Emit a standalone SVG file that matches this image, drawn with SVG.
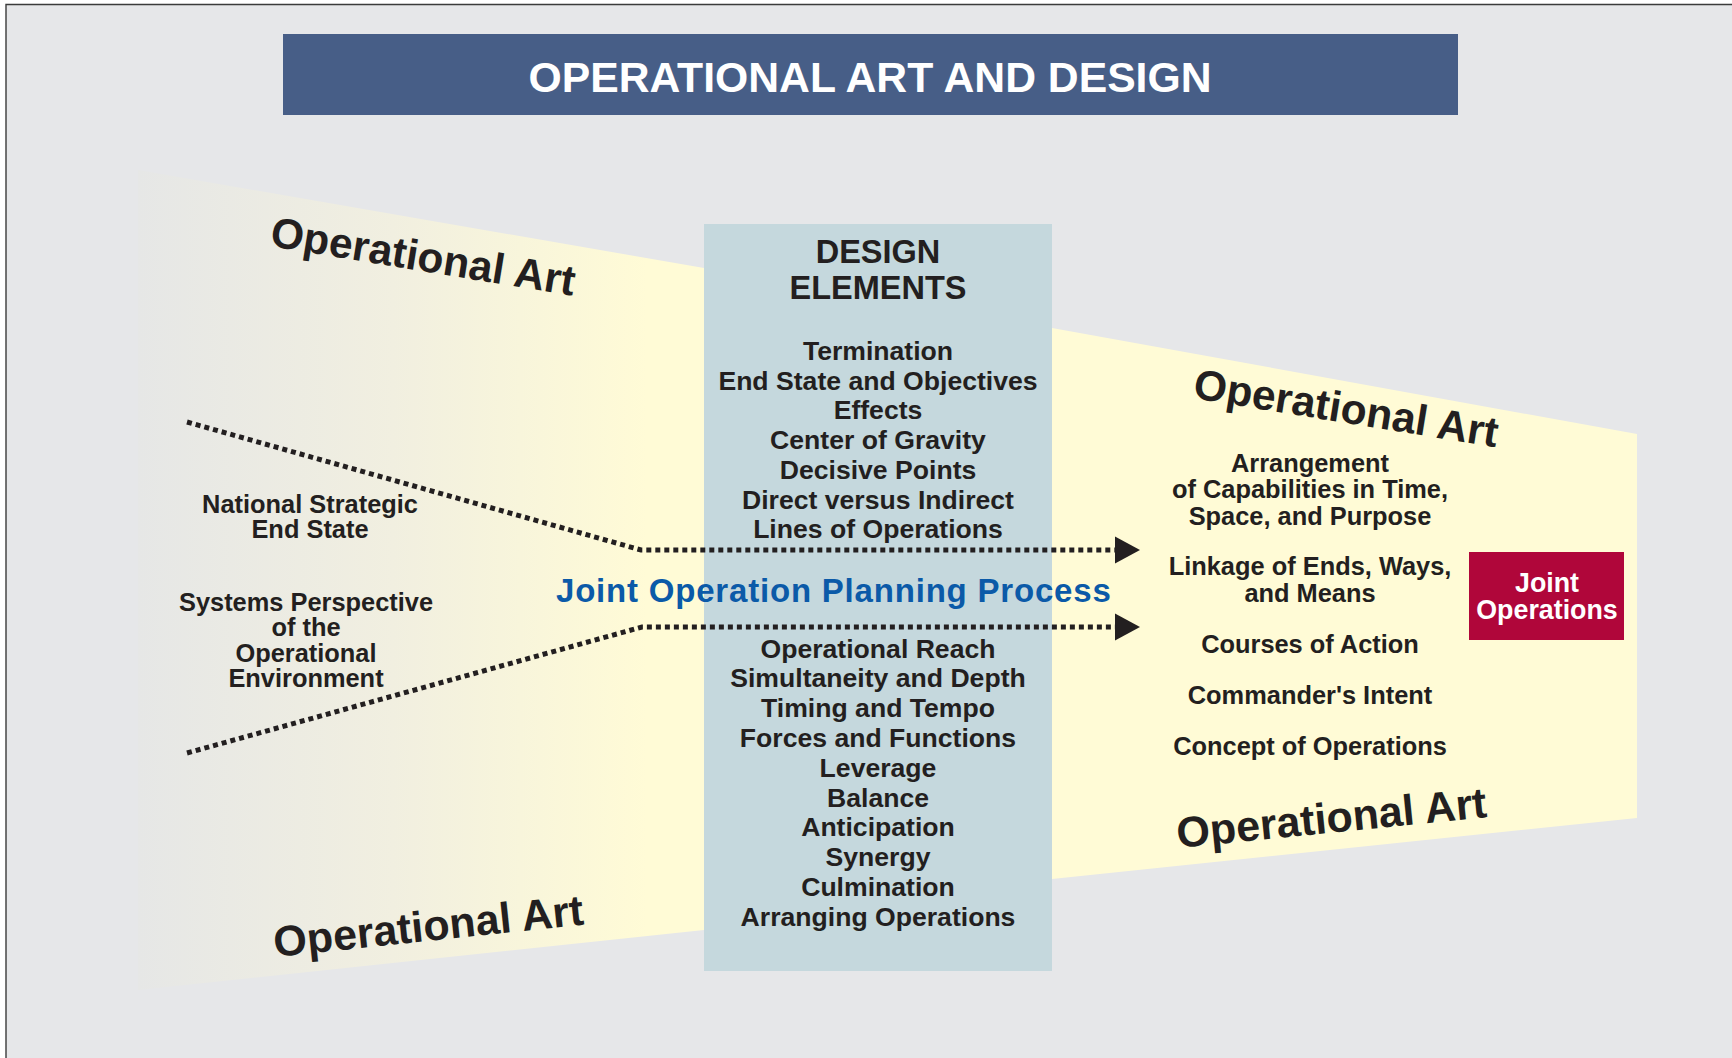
<svg xmlns="http://www.w3.org/2000/svg" width="1732" height="1058" viewBox="0 0 1732 1058">
<style>
.t{font-family:"Liberation Sans",Arial,Helvetica,sans-serif;font-weight:bold;fill:#231f20;}
.item{font-size:26.6px;text-anchor:middle;}
.lab{font-size:25.4px;text-anchor:middle;}
.oa{font-size:42.5px;}
.dot{fill:none;stroke:#231f20;stroke-width:5;stroke-dasharray:5 4;}
</style>
<defs>
<linearGradient id="lg" gradientUnits="userSpaceOnUse" x1="138" y1="0" x2="704" y2="0">
<stop offset="0" stop-color="#e6e7e6"/>
<stop offset="0.45" stop-color="#f1efe0"/>
<stop offset="0.9" stop-color="#fffbd6"/>
<stop offset="1" stop-color="#fffbd6"/>
</linearGradient>
<marker id="ah" markerUnits="userSpaceOnUse" markerWidth="26" markerHeight="28" viewBox="0 0 26 28" refX="0" refY="14" orient="auto">
<path d="M0,0.5 L25,14 L0,27.5 Z" fill="#231f20"/>
</marker>
</defs>
<rect x="0" y="0" width="1732" height="1058" fill="#ffffff"/>
<rect x="6" y="4.5" width="1726" height="1054" fill="#e6e7e9"/>
<path d="M6,1058 V4.5 H1732" fill="none" stroke="#3b3b3b" stroke-width="1.4"/>

<g id="title">
<rect x="283" y="34" width="1175" height="81" fill="#475e87"/>
<text x="870" y="92" class="t" font-size="42.7" text-anchor="middle" style="fill:#ffffff">OPERATIONAL ART AND DESIGN</text>
</g>

<g id="left-panel">
<polygon points="138,170 704,268 704,930 138,990" fill="url(#lg)"/>
<text class="t oa" x="269" y="246" transform="rotate(9.3 269 246)">Operational Art</text>
<text class="t" font-size="43" x="275" y="957" transform="rotate(-6 275 957)">Operational Art</text>
</g>

<g id="right-panel">
<polygon points="1052,328 1637,434 1637,818 1052,879" fill="#fffbd6"/>
<text class="t oa" x="1192" y="398" transform="rotate(9.2 1192 398)">Operational Art</text>
<text class="t" font-size="43" x="1178" y="848" transform="rotate(-5.7 1178 848)">Operational Art</text>
</g>

<g id="design-elements">
<rect x="704" y="224" width="348" height="747" fill="#c5d8dd"/>
<text class="t" font-size="32.5" text-anchor="middle" x="878" y="263">DESIGN</text>
<text class="t" font-size="32.5" text-anchor="middle" x="878" y="299">ELEMENTS</text>
<text class="t item" x="878" y="360">Termination</text>
<text class="t item" x="878" y="389.7">End State and Objectives</text>
<text class="t item" x="878" y="419.4">Effects</text>
<text class="t item" x="878" y="449.1">Center of Gravity</text>
<text class="t item" x="878" y="478.8">Decisive Points</text>
<text class="t item" x="878" y="508.5">Direct versus Indirect</text>
<text class="t item" x="878" y="538.2">Lines of Operations</text>
<text class="t item" x="878" y="657.5">Operational Reach</text>
<text class="t item" x="878" y="687.3">Simultaneity and Depth</text>
<text class="t item" x="878" y="717.1">Timing and Tempo</text>
<text class="t item" x="878" y="746.9">Forces and Functions</text>
<text class="t item" x="878" y="776.7">Leverage</text>
<text class="t item" x="878" y="806.5">Balance</text>
<text class="t item" x="878" y="836.3">Anticipation</text>
<text class="t item" x="878" y="866.1">Synergy</text>
<text class="t item" x="878" y="895.9">Culmination</text>
<text class="t item" x="878" y="925.7">Arranging Operations</text>
</g>

<g id="national-strategic-end-state">
<text class="t lab" x="310" y="512.5">National Strategic</text>
<text class="t lab" x="310" y="537.5">End State</text>
</g>

<g id="systems-perspective">
<text class="t lab" x="306" y="610.5">Systems Perspective</text>
<text class="t lab" x="306" y="636">of the</text>
<text class="t lab" x="306" y="661.5">Operational</text>
<text class="t lab" x="306" y="687">Environment</text>
</g>

<g id="jopp">
<text class="t" font-size="33" x="556" y="602" letter-spacing="0.8" style="fill:#0b5aa8">Joint Operation Planning Process</text>
</g>

<g id="right-items">
<text class="t lab" x="1310" y="471.5">Arrangement</text>
<text class="t lab" x="1310" y="498">of Capabilities in Time,</text>
<text class="t lab" x="1310" y="524.5">Space, and Purpose</text>
<text class="t lab" x="1310" y="575">Linkage of Ends, Ways,</text>
<text class="t lab" x="1310" y="601.5">and Means</text>
<text class="t lab" x="1310" y="653">Courses of Action</text>
<text class="t lab" x="1310" y="704">Commander's Intent</text>
<text class="t lab" x="1310" y="755">Concept of Operations</text>
</g>

<g id="joint-operations">
<rect x="1469" y="552" width="155" height="88" fill="#b0063a"/>
<text class="t" font-size="26.8" text-anchor="middle" x="1547" y="591.5" style="fill:#ffffff">Joint</text>
<text class="t" font-size="26.8" text-anchor="middle" x="1547" y="618.5" style="fill:#ffffff">Operations</text>
</g>

<g id="connectors">
<path class="dot" d="M187,422 L641,550 L1115,550" marker-end="url(#ah)"/>
<path class="dot" d="M187,753 L642,627 L1115,627" marker-end="url(#ah)"/>
</g>
</svg>
